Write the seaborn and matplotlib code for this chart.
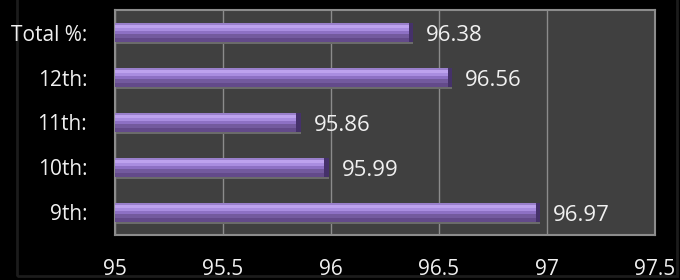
import matplotlib
matplotlib.use("Agg")
import matplotlib.pyplot as plt
import pandas as pd
import seaborn as sns

# chart data
labels = ["Total %:", "12th:", "11th:", "10th:", "9th:"]
values = [96.38, 96.56, 95.86, 95.99, 96.97]
x_ticks = [95, 95.5, 96, 96.5, 97, 97.5]
x_tick_labels = ["95", "95.5", "96", "96.5", "97", "97.5"]

df = pd.DataFrame({"grade": labels, "pct": values})

sns.set_style("dark")
plt.rcParams["font.family"] = ["Open Sans", "DejaVu Sans"]

fig = plt.figure(figsize=(6.8, 2.8), dpi=100, facecolor="black")
ax = fig.add_axes([0.169, 0.161, 0.794, 0.803])
ax.set_facecolor("#404040")

# shadow under each bar
pos = range(len(values))
ax.barh([p + 0.05 for p in pos], values, height=0.42, color="#6b6b6b",
        linewidth=0, zorder=2)

# base bar
sns.barplot(data=df, x="pct", y="grade", order=labels, color="#634a8a",
            width=0.42, saturation=1, linewidth=0, ax=ax, zorder=3)

# highlight stripes for the bevelled look (offset from top of bar, height, colour)
stripes = [(0.0, 0.045, "#9a80cc"), (0.045, 0.065, "#bda2ee"), (0.11, 0.065, "#a98de0"),
           (0.175, 0.065, "#8d70c4"), (0.24, 0.09, "#735a9e")]
for off, h, c in stripes:
    ax.barh([p - 0.21 + off + h / 2 for p in pos], values, height=h, color=c,
            zorder=4, linewidth=0)

# dark end cap
ax.barh(list(pos), [0.02] * len(values), left=[v - 0.02 for v in values],
        height=0.42, color="#45316a", zorder=5, linewidth=0)

for p, v in zip(pos, values):
    ax.text(v + 0.06, p + 0.06, f"{v:.2f}", color="#f0f0f0", fontsize=16,
            va="center", ha="left", zorder=6)

ax.set_xlim(95, 97.5)
ax.set_ylim(len(values) - 0.5, -0.5)
ax.set_xticks(x_ticks)
ax.set_xticklabels(x_tick_labels)
ax.grid(axis="x", color="#8c8c8c", linewidth=1, zorder=1)
ax.grid(axis="y", visible=False)
ax.set_axisbelow(True)
ax.set_xlabel("")
ax.set_ylabel("")
ax.tick_params(axis="x", colors="#f0f0f0", labelsize=15, pad=17, length=0)
ax.tick_params(axis="y", colors="#f0f0f0", labelsize=15, pad=20, length=0)
for s in ax.spines.values():
    s.set_visible(True)
    s.set_color("#8c8c8c")
    s.set_linewidth(1.5)

# faint outer chart frame, behind everything
fig.add_artist(plt.Rectangle((0.025, 0.015), 0.97, 1.2, transform=fig.transFigure,
                             fill=False, edgecolor="#1c1c1c", linewidth=2, zorder=-5))

fig.savefig("out.png", facecolor="black")
